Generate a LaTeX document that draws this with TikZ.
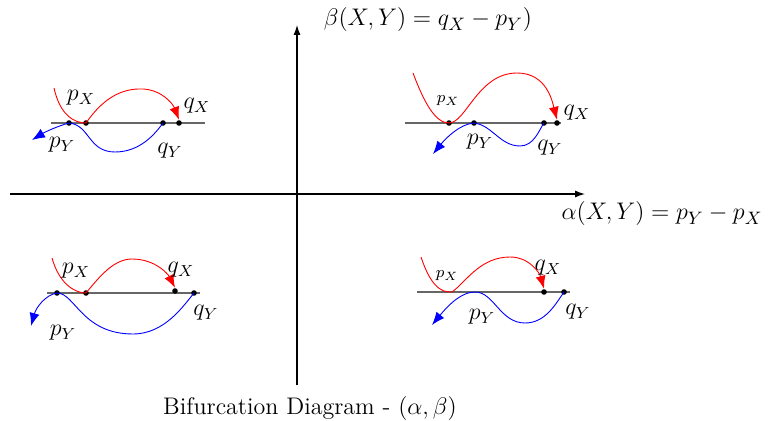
\documentclass[tikz,border=0pt,12pt]{standalone}
\usetikzlibrary{arrows.meta}
\begin{document}
\begin{tikzpicture}[x=0.5pt,y=-0.5pt,
  axis/.style={line width=0.6pt,-{Latex[length=5pt,width=3.5pt]}},
  base/.style={line width=0.8pt,black!60},
  dot/.style={circle,fill=black,inner sep=0pt,minimum size=2.8pt},
  redc/.style={red,line width=0.45pt},
  bluec/.style={blue,line width=0.45pt},
  redarr/.style={redc,-{Latex[length=6.5pt,width=5pt]}},
  bluearr/.style={bluec,-{Latex[length=6.5pt,width=5pt]}},
  lab/.style={inner sep=0pt},
  alab/.style={inner sep=0pt,font=\fontsize{12.65}{15}\selectfont},
  slab/.style={inner sep=0pt,font=\scriptsize}]
\useasboundingbox (0,0) rectangle (769,421);
% axes
\coordinate (hl) at (10,194);
\coordinate (hr) at (585,194);
\coordinate (vb) at (297,385);
\coordinate (vt) at (297,25);
\draw[axis] (hl) -- (hr);
\draw[axis] (vb) -- (vt);
\node[alab] (beta) at (428,20) {$\beta(X,Y)=q_X-p_Y)$};
\node[alab] (alpha) at (662,214) {$\alpha(X,Y)=p_Y-p_X$};
\node[lab] (title) at (310,408) {Bifurcation Diagram - $(\alpha,\beta)$};

% ---------- Q1 (top left)
\coordinate (l1a) at (51,123); \coordinate (l1b) at (205,123);
\draw[base] (l1a) -- (l1b);
\node[dot] (py1) at (69,123) {};
\node[dot] (px1) at (86,123) {};
\node[dot] (qy1) at (163,123) {};
\node[dot] (qx1) at (179,123) {};
\coordinate (rs1) at (54,88);
\coordinate (ba1) at (32,140);
\draw[redc] (rs1) .. controls (60,115) and (74,123) .. (px1.center);
\draw[redarr] (px1.center) .. controls (102,100) and (120,88) .. (143,89) .. controls (162,90) and (173,104) .. (qx1.north);
\draw[bluearr] (py1.center) .. controls (58,126) and (45,132) .. (ba1);
\draw[bluec] (py1.center) .. controls (90,125) and (88,152) .. (115,152) .. controls (140,152) and (155,134) .. (qy1.center);
\node[lab] at (81,98) {$p_X$};
\node[lab] at (197,106) {$q_X$};
\node[lab] at (62,145) {$p_Y$};
\node[lab] at (170,151) {$q_Y$};

% ---------- Q2 (top right)
\coordinate (l2a) at (405,123); \coordinate (l2b) at (561,123);
\draw[base] (l2a) -- (l2b);
\node[dot] (px2) at (449,123) {};
\node[dot] (py2) at (474,123) {};
\node[dot] (qy2) at (544,123) {};
\node[dot] (qx2) at (557,123) {};
\coordinate (rs2) at (413,73);
\coordinate (ba2) at (433,154);
\draw[redc] (rs2) .. controls (425,105) and (436,123) .. (px2.center);
\draw[redarr] (px2.center) .. controls (466,123) and (478,73) .. (517,73) .. controls (546,73) and (552,100) .. (qx2.north);
\draw[bluearr] (py2.center) .. controls (460,124) and (446,138) .. (ba2);
\draw[bluec] (py2.center) .. controls (492,125) and (500,146) .. (520,146) .. controls (534,146) and (539,130) .. (qy2.center);
\node[slab] at (448,101) {$p_X$};
\node[lab] at (577,113) {$q_X$};
\node[lab] at (480,142) {$p_Y$};
\node[lab] at (550,148) {$q_Y$};

% ---------- Q3 (bottom left)
\coordinate (l3a) at (47,293); \coordinate (l3b) at (200,293);
\draw[base] (l3a) -- (l3b);
\node[dot] (py3) at (57,293) {};
\node[dot] (px3) at (86,293) {};
\node[dot] (qx3) at (175,291) {};
\node[dot] (qy3) at (194,293) {};
\coordinate (rs3) at (52,258);
\coordinate (ba3) at (31,326);
\draw[redc] (rs3) .. controls (59,283) and (74,293) .. (px3.center);
\draw[redarr] (px3.center) .. controls (100,276) and (114,259) .. (132,259) .. controls (155,259) and (168,274) .. (qx3.north);
\draw[bluearr] (py3.center) .. controls (45,295) and (36,308) .. (ba3);
\draw[bluec] (py3.center) .. controls (75,293) and (82,334) .. (133,334) .. controls (165,334) and (184,305) .. (qy3.center);
\node[lab] at (76,271) {$p_X$};
\node[lab] at (181,270) {$q_X$};
\node[lab] at (63,333) {$p_Y$};
\node[lab] at (206,313) {$q_Y$};

% ---------- Q4 (bottom right)
\coordinate (l4a) at (417,292); \coordinate (l4b) at (570,292);
\draw[base] (l4a) -- (l4b);
\node[dot] (qx4) at (544,292) {};
\node[dot] (qy4) at (564,292) {};
\coordinate (rs4) at (421,257);
\coordinate (ba4) at (432,325);
\draw[redarr] (rs4) .. controls (430,284) and (440,293) .. (452,292) .. controls (466,282) and (480,257) .. (510,257) .. controls (530,257) and (540,274) .. (qx4.north);
\draw[bluearr] (qy4.center) .. controls (555,305) and (545,323) .. (525,323) .. controls (500,323) and (494,292) .. (475,292) .. controls (460,292) and (446,308) .. (ba4);
\node[slab] at (447,276) {$p_X$};
\node[lab] at (548,268) {$q_X$};
\node[lab] at (482,317) {$p_Y$};
\node[lab] at (578,312) {$q_Y$};
\end{tikzpicture}
\end{document}
